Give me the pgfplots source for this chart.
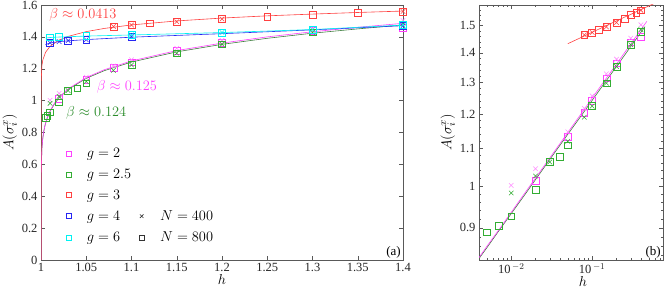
\documentclass[border=0pt]{standalone}
\usepackage{pgfplots}
\usepackage{pgfplotstable}
\pgfplotsset{compat=1.18}
\usepackage{fontspec}
\setmainfont{Liberation Serif}
\definecolor{cmag}{rgb}{1,0.25,1}
\definecolor{cgreen}{rgb}{0.2,0.68,0.2}
\definecolor{cgline}{rgb}{0.25,0.5,0.25}
\definecolor{cred}{rgb}{1,0.25,0.25}
\definecolor{cblue}{rgb}{0.15,0.15,0.95}
\definecolor{ccyan}{rgb}{0,0.95,0.95}
\definecolor{axgray}{rgb}{0.35,0.35,0.35}

% data: d = h-1, A
\pgfplotstableread{
d A
0.01 1.002
0.02 1.045
0.05 1.147
0.08 1.217
0.1 1.256
0.15 1.328
0.2 1.378
0.3 1.453
0.4 1.503
}\gtwoN
\pgfplotstableread{
d A
0.02 1.013
0.03 1.063
0.05 1.133
0.08 1.204
0.1 1.241
0.15 1.313
0.2 1.364
0.3 1.438
0.4 1.457
}\gtwoE
\pgfplotstableread{
d A
0.01 0.983
0.02 1.026
0.03 1.063
0.05 1.120
0.08 1.190
0.1 1.224
0.15 1.297
0.2 1.353
0.3 1.429
0.4 1.485
}\gtfN
\pgfplotstableread{
d A
0.005 0.890
0.007 0.905
0.01 0.927
0.02 0.990
0.03 1.063
0.04 1.077
0.05 1.109
0.1 1.224
0.15 1.297
0.2 1.353
0.3 1.429
0.4 1.478
}\gtfE
\pgfplotstableread{
d A
0.08 1.465
0.1 1.474
0.15 1.495
0.2 1.512
0.4 1.559
}\gthN
\pgfplotstableread{
d A
0.08 1.465
0.1 1.474
0.12 1.485
0.15 1.495
0.2 1.512
0.25 1.527
0.3 1.541
0.35 1.550
0.4 1.559
}\gthE
\pgfplotstableread{
d A
0.01 1.363
0.02 1.370
0.03 1.377
0.05 1.382
0.1 1.401
0.4 1.470
}\gfoN
\pgfplotstableread{
d A
0.01 1.363
0.03 1.377
0.05 1.382
0.1 1.401
0.4 1.468
}\gfoE
\pgfplotstableread{
d A
0.1 1.412
0.2 1.428
0.3 1.444
0.4 1.475
}\gsiN
\pgfplotstableread{
d A
0.01 1.398
0.02 1.400
0.05 1.405
0.1 1.412
0.2 1.428
0.3 1.444
0.4 1.475
}\gsiE
% fitted curves
\pgfplotstableread{
d A
0 0
1e-12 0.053
1e-8 0.1665
1e-6 0.296
1e-5 0.395
1e-4 0.526
0.001 0.702
0.002 0.766
0.003 0.806
0.004 0.835
0.005 0.859
0.007 0.895
0.01 0.936
0.015 0.985
0.02 1.021
0.03 1.074
0.05 1.145
0.07 1.194
0.1 1.249
0.15 1.314
0.2 1.361
0.25 1.400
0.3 1.432
0.35 1.460
0.4 1.485
0.473 1.516
}\fitmag
\pgfplotstableread{
d A
0 0
1e-12 0.054
1e-8 0.168
1e-6 0.298
1e-5 0.396
1e-4 0.527
0.001 0.701
0.002 0.764
0.003 0.804
0.004 0.833
0.005 0.856
0.007 0.893
0.01 0.933
0.015 0.981
0.02 1.017
0.03 1.070
0.05 1.140
0.07 1.188
0.1 1.242
0.15 1.306
0.2 1.353
0.25 1.391
0.3 1.423
0.35 1.450
0.4 1.475
0.45 1.496
}\fitgreen
\pgfplotstableread{
d A
0 0
1e-12 0.518
1e-8 0.758
1e-6 0.917
1e-5 1.008
1e-4 1.109
0.001 1.219
0.002 1.255
0.005 1.303
0.01 1.341
0.02 1.380
0.03 1.403
0.05 1.433
0.07 1.453
0.1 1.475
0.15 1.500
0.2 1.518
0.25 1.532
0.3 1.543
0.35 1.553
0.4 1.562
}\fitred
\pgfplotstableread{
d A
0.05 1.433
0.07 1.453
0.1 1.475
0.15 1.500
0.2 1.518
0.25 1.532
0.3 1.543
0.35 1.553
0.4 1.562
0.5 1.576
0.6 1.588
0.7 1.598
}\fitredR
\pgfplotstableread{
d A
0.005 1.352
0.01 1.362
0.02 1.370
0.03 1.375
0.05 1.383
0.1 1.398
0.2 1.420
0.3 1.444
0.4 1.470
}\lineblue
\pgfplotstableread{
d A
0.005 1.392
0.01 1.396
0.02 1.399
0.05 1.405
0.1 1.412
0.2 1.427
0.3 1.446
0.4 1.474
}\linecyan

\pgfplotsset{
  every axis/.append style={
    scale only axis,
    axis line style={axgray},
    every tick/.style={axgray},
    major tick length=4pt,
    minor tick length=2pt,
    ticklabel style={font=\fontsize{12.5}{14}\selectfont, text=black!85},
    /pgf/number format/assume math mode=true,
    label style={font=\fontsize{15}{17}\selectfont},
  },
  sq/.style={only marks, mark=square, mark size=3.4pt, mark options={line width=0.55pt}},
  cr/.style={only marks, mark=x, mark size=3.2pt, mark options={line width=0.55pt}},
  lsq/.style={only marks, mark=square, mark size=2.5pt, mark options={line width=0.55pt}},
  lcr/.style={only marks, mark=x, mark size=2.5pt, mark options={line width=0.55pt}},
}

\begin{document}
\begin{tikzpicture}
\useasboundingbox (0,0) rectangle (664pt,294pt);
% ---------------- (a)
\begin{axis}[
  at={(41pt,34pt)}, anchor=south west,
  width=362pt, height=255pt,
  xmin=1, xmax=1.4, ymin=0, ymax=1.6,
  xtick={1,1.05,1.1,1.15,1.2,1.25,1.3,1.35,1.4},
  xticklabels={1,1.05,1.1,1.15,1.2,1.25,1.3,1.35,1.4},
  ytick={0,0.2,0.4,0.6,0.8,1,1.2,1.4,1.6},
  yticklabels={0,0.2,0.4,0.6,0.8,1,1.2,1.4,1.6},
  xlabel={$h$}, ylabel={$A(\sigma_i^x)$},
  xlabel style={yshift=4pt},
  ylabel style={yshift=-2pt},
  legend columns=2,
  legend cell align=left,
  legend style={at={(0.06,0.455)}, anchor=north west, draw=none, fill=none,
    font=\fontsize{14}{16}\selectfont, row sep=6pt,
    /tikz/every odd column/.append style={column sep=14pt}},
]
\addplot[cgline, line width=0.6pt, forget plot] table[x expr=\thisrow{d}+1, y=A] {\fitgreen};
\addplot[cmag, line width=0.6pt, forget plot] table[x expr=\thisrow{d}+1, y=A] {\fitmag};
\addplot[cred, line width=0.6pt, forget plot] table[x expr=\thisrow{d}+1, y=A] {\fitred};
\addplot[cblue, line width=0.6pt, forget plot] table[x expr=\thisrow{d}+1, y=A] {\lineblue};
\addplot[ccyan, line width=0.6pt, forget plot] table[x expr=\thisrow{d}+1, y=A] {\linecyan};

\addplot[sq, cmag, forget plot] table[x expr=\thisrow{d}+1, y=A] {\gtwoE};
\addplot[cr, cmag!60, forget plot] table[x expr=\thisrow{d}+1, y=A] {\gtwoN};
\addplot[sq, cgreen, forget plot] table[x expr=\thisrow{d}+1, y=A] {\gtfE};
\addplot[cr, cgreen, forget plot] table[x expr=\thisrow{d}+1, y=A] {\gtfN};
\addplot[sq, cred, forget plot] table[x expr=\thisrow{d}+1, y=A] {\gthE};
\addplot[cr, cred, forget plot] table[x expr=\thisrow{d}+1, y=A] {\gthN};
\addplot[sq, cblue, forget plot] table[x expr=\thisrow{d}+1, y=A] {\gfoE};
\addplot[cr, cblue, forget plot] table[x expr=\thisrow{d}+1, y=A] {\gfoN};
\addplot[sq, ccyan, forget plot] table[x expr=\thisrow{d}+1, y=A] {\gsiE};
\addplot[cr, ccyan, forget plot] table[x expr=\thisrow{d}+1, y=A] {\gsiN};

\addlegendimage{lsq, cmag}\addlegendentry{$g=2$}
\addlegendimage{empty legend}\addlegendentry{}
\addlegendimage{lsq, cgreen}\addlegendentry{$g=2.5$}
\addlegendimage{empty legend}\addlegendentry{}
\addlegendimage{lsq, cred}\addlegendentry{$g=3$}
\addlegendimage{empty legend}\addlegendentry{}
\addlegendimage{lsq, cblue}\addlegendentry{$g=4$}
\addlegendimage{lcr, black!80}\addlegendentry{$N=400$}
\addlegendimage{lsq, ccyan}\addlegendentry{$g=6$}
\addlegendimage{lsq, black!80}\addlegendentry{$N=800$}

\node[cred, font=\fontsize{15}{17}\selectfont] at (axis cs:1.0464,1.537) {$\beta\approx0.0413$};
\node[cmag, font=\fontsize{15}{17}\selectfont] at (axis cs:1.095,1.085) {$\beta\approx0.125$};
\node[cgreen!80!black, font=\fontsize{15}{17}\selectfont] at (axis cs:1.061,0.922) {$\beta\approx0.124$};
\node[anchor=south east, font=\fontsize{13}{15}\selectfont, inner sep=2pt] at (rel axis cs:1,0) {(a)};
\end{axis}
% ---------------- (b)
\begin{axis}[
  at={(479pt,34pt)}, anchor=south west,
  width=184pt, height=255pt,
  xmode=log, ymode=log,
  xmin=0.004, xmax=0.75, ymin=0.83, ymax=1.58,
  xtick={0.01,0.1},
  xticklabels={10$^{\,-2}$,10$^{\,-1}$},
  minor xtick={0.004,0.005,0.006,0.007,0.008,0.009,0.02,0.03,0.04,0.05,0.06,0.07,0.08,0.09,0.2,0.3,0.4,0.5,0.6,0.7},
  ytick={0.9,1,1.1,1.2,1.3,1.4,1.5},
  yticklabels={0.9,1,1.1,1.2,1.3,1.4,1.5},
  minor ytick={0.84,0.86,0.88,0.92,0.94,0.96,0.98,1.02,1.04,1.06,1.08,1.12,1.14,1.16,1.18,1.22,1.24,1.26,1.28,1.32,1.34,1.36,1.38,1.42,1.44,1.46,1.48,1.52,1.54,1.56},
  xlabel={$h$}, ylabel={$A(\sigma_i^x)$},
  xlabel style={yshift=4pt, xshift=12pt},
  ylabel style={yshift=-2pt},
]
\addplot[cgline, line width=0.6pt] table[x=d, y=A] {\fitgreen};
\addplot[cmag, line width=0.6pt] table[x=d, y=A] {\fitmag};
\addplot[cred, line width=0.6pt] table[x=d, y=A] {\fitredR};
\addplot[sq, cmag] table[x=d, y=A] {\gtwoE};
\addplot[cr, cmag!60] table[x=d, y=A] {\gtwoN};
\addplot[sq, cgreen] table[x=d, y=A] {\gtfE};
\addplot[cr, cgreen] table[x=d, y=A] {\gtfN};
\addplot[sq, cred] table[x=d, y=A] {\gthE};
\addplot[cr, cred] table[x=d, y=A] {\gthN};
\node[anchor=south east, font=\fontsize{13}{15}\selectfont, inner sep=2pt] at (rel axis cs:1,0) {(b)};
\end{axis}
\end{tikzpicture}
\end{document}
